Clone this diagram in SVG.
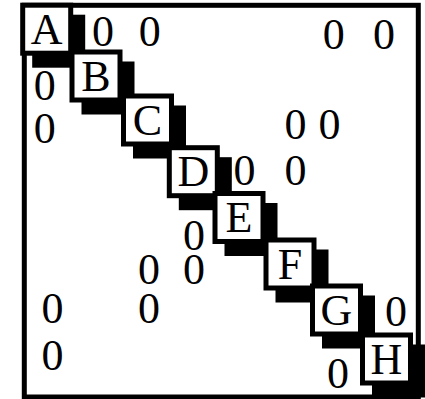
<svg xmlns="http://www.w3.org/2000/svg" width="425" height="399" viewBox="0 0 425 399">
  <style>
    .frame { fill: none; stroke: #000; stroke-width: 5; }
    .shadow { fill: #000; }
    .cell { fill: #fff; stroke: #000; stroke-width: 5; }
    .lbl { font-family: "Liberation Serif", "Times New Roman", serif; font-size: 44px; fill: #000; text-anchor: middle; }
  </style>
  <rect width="425" height="399" fill="#fff"/>
  <!-- outer matrix frame -->
  <rect class="frame" x="24.3" y="5.3" width="394" height="391.7"/>

  <!-- diagonal blocks: drop shadow, framed cell, label -->
  <g id="A">
    <rect class="shadow" x="32.2" y="14.7" width="53" height="53"/>
    <rect class="cell" x="22.7" y="5.2" width="48" height="48"/>
    <text class="lbl" x="46.7" y="43.6">A</text>
  </g>
  <g id="B">
    <rect class="shadow" x="81.5" y="61.5" width="53" height="53"/>
    <rect class="cell" x="72" y="52" width="48" height="48"/>
    <text class="lbl" x="96" y="90.6">B</text>
  </g>
  <g id="C">
    <rect class="shadow" x="133" y="105.5" width="53" height="53"/>
    <rect class="cell" x="123.5" y="96" width="48" height="48"/>
    <text class="lbl" x="147.5" y="134.6">C</text>
  </g>
  <g id="D">
    <rect class="shadow" x="178.8" y="157.2" width="53" height="53"/>
    <rect class="cell" x="169.3" y="147.7" width="48" height="48"/>
    <text class="lbl" x="193.3" y="186.3">D</text>
  </g>
  <g id="E">
    <rect class="shadow" x="224.5" y="203" width="53" height="53"/>
    <rect class="cell" x="215" y="193.5" width="48" height="48"/>
    <text class="lbl" x="239" y="232.1">E</text>
  </g>
  <g id="F">
    <rect class="shadow" x="275.5" y="249.5" width="53" height="53"/>
    <rect class="cell" x="266" y="240" width="48" height="48"/>
    <text class="lbl" x="290" y="278.6">F</text>
  </g>
  <g id="G">
    <rect class="shadow" x="322" y="295.5" width="53" height="53"/>
    <rect class="cell" x="312.5" y="286" width="48" height="48"/>
    <text class="lbl" x="336.5" y="324.6">G</text>
  </g>
  <g id="H">
    <rect class="shadow" x="372" y="344.5" width="53" height="53"/>
    <rect class="cell" x="362.5" y="335" width="48" height="48"/>
    <text class="lbl" x="386.5" y="373.6">H</text>
  </g>

  <!-- off-diagonal zero entries -->
  <g id="zeros">
    <text class="lbl" x="103" y="46">0</text>
    <text class="lbl" x="149.7" y="46">0</text>
    <text class="lbl" x="333.7" y="49">0</text>
    <text class="lbl" x="384" y="49">0</text>
    <text class="lbl" x="44.7" y="99.5">0</text>
    <text class="lbl" x="44.7" y="142.5">0</text>
    <text class="lbl" x="295.5" y="138.8">0</text>
    <text class="lbl" x="329.5" y="138.8">0</text>
    <text class="lbl" x="244.5" y="184.5">0</text>
    <text class="lbl" x="295.5" y="184.5">0</text>
    <text class="lbl" x="194" y="249.5">0</text>
    <text class="lbl" x="149" y="283.5">0</text>
    <text class="lbl" x="194" y="283.5">0</text>
    <text class="lbl" x="52.5" y="322.5">0</text>
    <text class="lbl" x="149" y="322.5">0</text>
    <text class="lbl" x="396" y="326.2">0</text>
    <text class="lbl" x="52.5" y="369.5">0</text>
    <text class="lbl" x="338" y="387.5">0</text>
  </g>
</svg>
